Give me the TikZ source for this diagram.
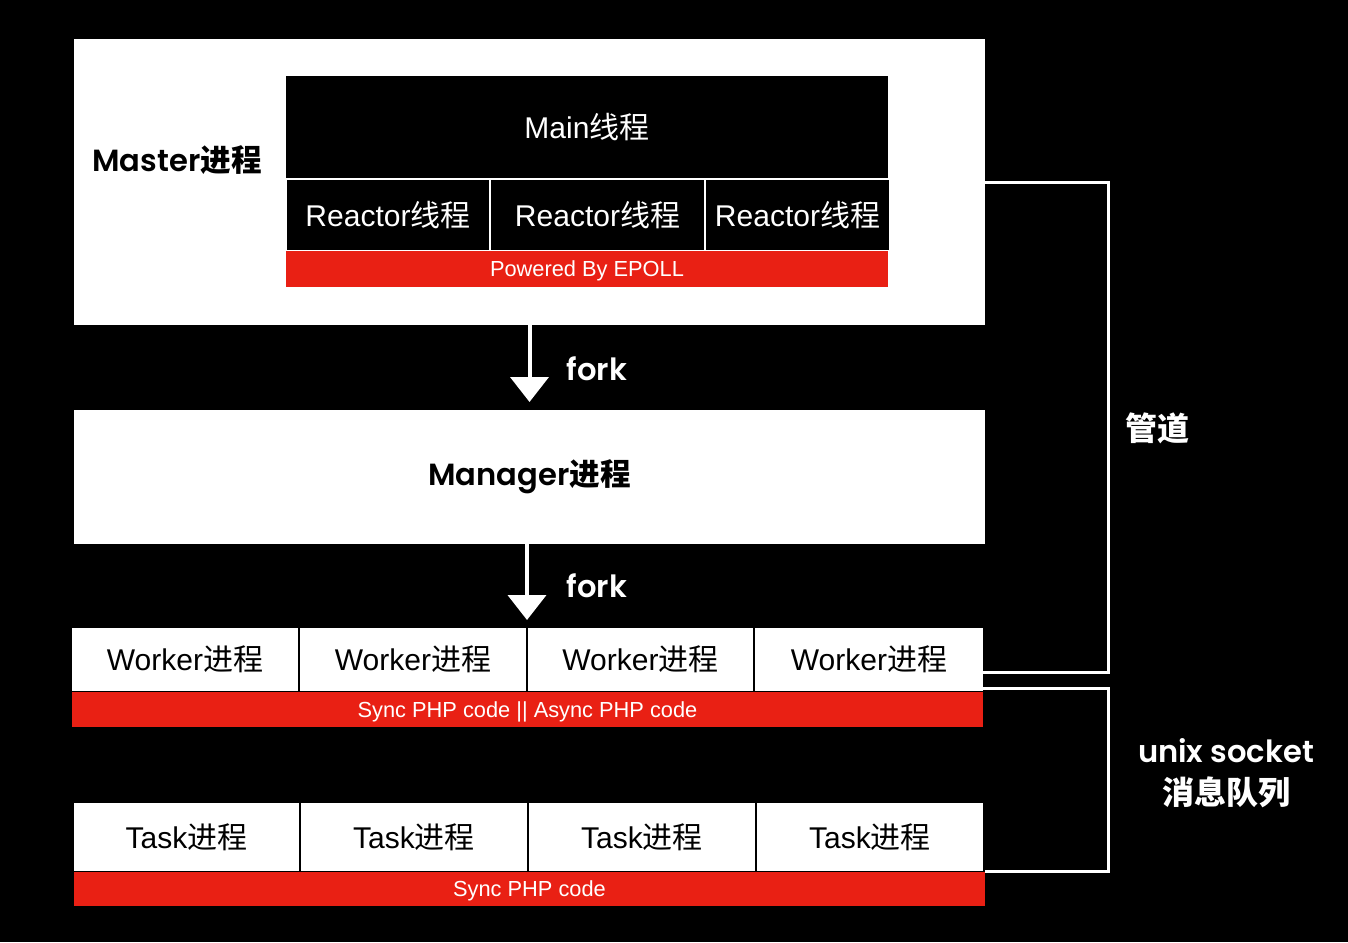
\documentclass[tikz,border=0pt]{standalone}
\usepackage{fontspec}
\usetikzlibrary{arrows.meta}
\setmainfont{Liberation Sans}
\newfontfamily\pp{Poppins}[UprightFont=* SemiBold]
\newfontfamily\cjk{Noto Sans CJK SC}
\definecolor{epred}{RGB}{233,32,20}
\newcommand\cn[1]{{\cjk #1}}
\newcommand\cb[1]{{\cjk\bfseries #1}}
\newcommand\bx[7]{\node[#6, minimum width={(#4-#2)*0.5pt}, minimum height={(#5-#3)*0.5pt}] (#1) at ({(#2+#4)/2},{(#3+#5)/2}) {#7};}
\tikzset{
  base/.style={inner sep=0pt, outer sep=0pt, draw=none},
  wbox/.style={base, fill=white, text=black},
  kbox/.style={base, fill=black, text=white},
  rbox/.style={base, fill=epred, text=white, text depth=0pt},
  bigtxt/.style={font=\fontsize{15pt}{17pt}\selectfont},
  smalltxt/.style={font=\fontsize{10.9pt}{12pt}\selectfont},
  boldtxt/.style={font=\fontsize{15.3pt}{17pt}\selectfont\pp},
  forkarrow/.style={white, line width=2pt, -{Triangle[width=19pt,length=12.5pt]}},
  bracket/.style={white, line width=1.5pt},
}
\begin{document}
\begin{tikzpicture}[x=0.5pt, y=-0.5pt]
\fill[black] (0,0) rectangle (1348,942);
\useasboundingbox (0,0) rectangle (1348,942);
% Master
\bx{master}{74}{39}{985}{325}{wbox}{}
\node[base, boldtxt, text=black] (mlabel) at (177,160) {Master\cb{进程}};
\bx{main}{286}{76}{888}{178}{kbox, bigtxt}{Main\cn{线程}}
\bx{r1}{287}{180}{489}{250}{kbox, bigtxt}{Reactor\cn{线程}}
\bx{r2}{491}{180}{704}{250}{kbox, bigtxt}{Reactor\cn{线程}}
\bx{r3}{706}{180}{889}{250}{kbox, bigtxt}{Reactor\cn{线程}}
\bx{epoll}{286}{251}{888}{287}{rbox, smalltxt}{Powered By EPOLL}
% Manager
\bx{manager}{74}{410}{985}{544}{wbox, boldtxt}{Manager\cb{进程}}
% Workers
\bx{w1}{72}{628}{298}{691}{wbox, bigtxt}{Worker\cn{进程}}
\bx{w2}{300}{628}{526}{691}{wbox, bigtxt}{Worker\cn{进程}}
\bx{w3}{528}{628}{753}{691}{wbox, bigtxt}{Worker\cn{进程}}
\bx{w4}{755}{628}{983}{691}{wbox, bigtxt}{Worker\cn{进程}}
\bx{wcode}{72}{692}{983}{727}{rbox, smalltxt}{Sync PHP code || Async PHP code}
% Tasks
\bx{t1}{74}{803}{299}{871}{wbox, bigtxt}{Task\cn{进程}}
\bx{t2}{301}{803}{527}{871}{wbox, bigtxt}{Task\cn{进程}}
\bx{t3}{529}{803}{755}{871}{wbox, bigtxt}{Task\cn{进程}}
\bx{t4}{757}{803}{983}{871}{wbox, bigtxt}{Task\cn{进程}}
\bx{tcode}{74}{872}{985}{906}{rbox, smalltxt}{Sync PHP code}
% fork arrows
\draw[forkarrow, shorten >=4pt] (master.south) -- (manager.north);
\node[base, boldtxt, text=white] (fork1) at (597,369) {fork};
\coordinate (m2) at (527,544);
\coordinate (w2top) at (527,628);
\draw[forkarrow, shorten >=4pt] (m2) -- (w2top);
\node[base, boldtxt, text=white] (fork2) at (597,586) {fork};
% brackets
\coordinate (p1) at (1108,182);
\coordinate (p2) at (1108,672);
\draw[bracket] (master.east |- p1) -- (p1) -- (p2) -- (w4.east |- p2);
\coordinate (s1) at (1108,688);
\coordinate (s2) at (1108,871);
\draw[bracket] (wcode.east |- s1) -- (s1) -- (s2) -- (tcode.east |- s2);
\node[base, text=white, font=\fontsize{16pt}{18pt}\selectfont\cjk\bfseries] (pipe) at (1157,428) {管道};
\node[base, text=white, boldtxt] (unix) at (1226,751) {unix socket};
\node[base, text=white, font=\fontsize{16pt}{18pt}\selectfont\cjk\bfseries] (mq) at (1226,792) {消息队列};
\end{tikzpicture}
\end{document}
